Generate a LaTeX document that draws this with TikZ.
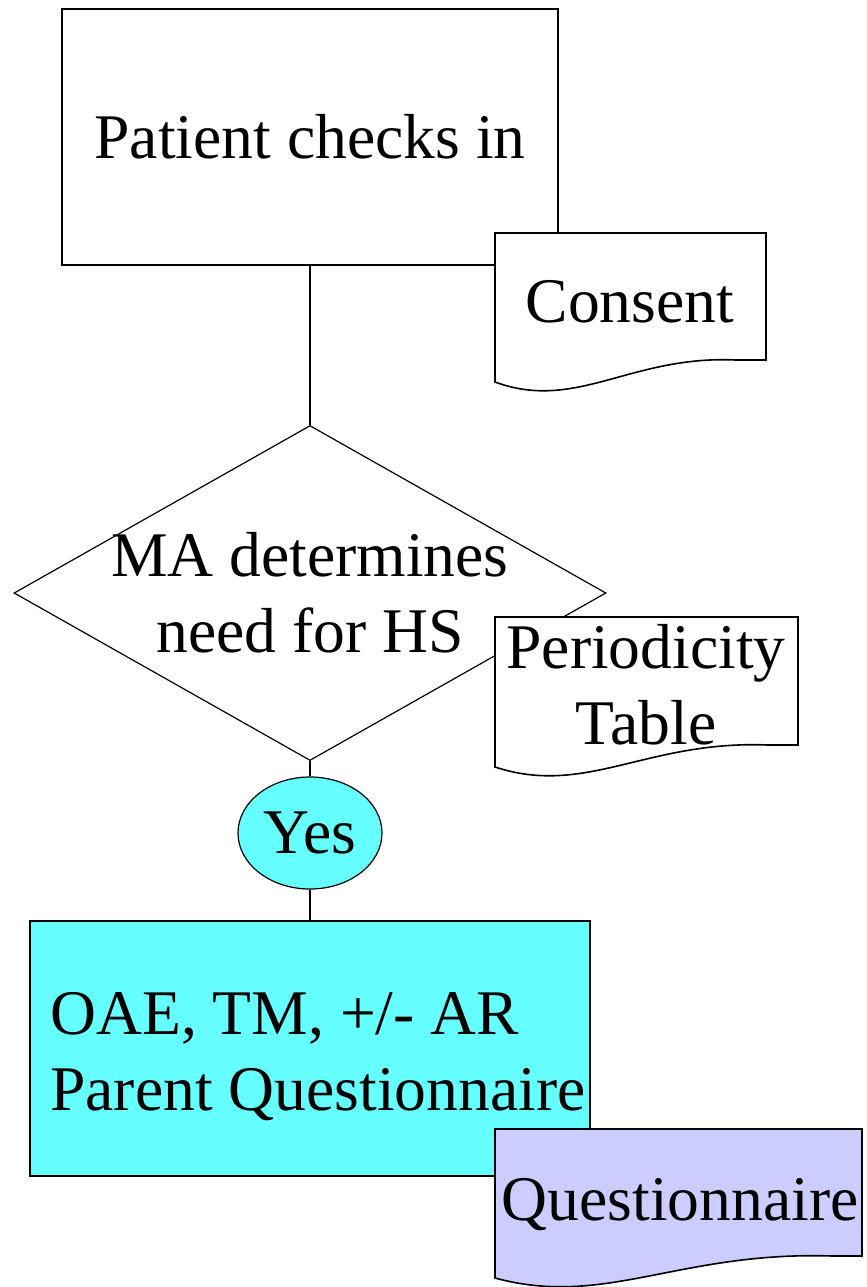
\documentclass[tikz,border=0pt]{standalone}
\usepackage{fontspec}
\setmainfont{Liberation Serif}
\usetikzlibrary{shapes.geometric}
\definecolor{aqua}{HTML}{66FFFF}
\definecolor{lavender}{HTML}{CCCCFF}

\begin{document}
\begin{tikzpicture}[x=0.5pt,y=-0.5pt,
    every node/.style={font=\fontsize{31.8}{38}\selectfont},
    stepbox/.style={draw, line width=1pt, rectangle, inner sep=0pt},
    link/.style={line width=0.6pt}]
  \useasboundingbox (0,0) rectangle (867,1287);

  \node[stepbox, minimum width=248pt, minimum height=128pt] (checkin) at (310,137) {Patient checks in};
  \node[diamond, draw, line width=0.6pt, minimum width=296pt, minimum height=167.5pt, inner sep=0pt,
        label={[align=center]center:MA determines\\need for HS}] (decide) at (310,593) {};
  \node[ellipse, draw, fill=aqua, line width=0.6pt, minimum width=72pt, minimum height=56pt, inner sep=0pt] (yes) at (310,833) {Yes};
  \node[stepbox, fill=aqua, minimum width=280pt, minimum height=127.5pt] (tests) at (310,1048.5) {};
  \node[anchor=west, align=left, inner sep=0pt] (teststext) at (50,1057) {OAE, TM, +/- AR\\Parent Questionnaire};

  \draw[link] (checkin) -- (decide);
  \draw[link] (decide) -- (yes);
  \draw[link] (yes) -- (tests);

  % documents with a wavy bottom
  \foreach \xa/\ya/\xb/\yb/\col in {495/233/766/382/white, 495/617/798/767/white, 495/1129/862/1278/lavender}
  {
    \filldraw[fill=\col, line width=0.8pt] (\xa,\ya) -- (\xb,\ya) -- ({\xb},{\yb-22}) -- ({\xb-30},{\yb-22})
      .. controls ({\xa+0.5*(\xb-\xa)},{\yb-27}) and ({\xa+0.3*(\xb-\xa)},{\yb+30}) .. (\xa,\yb) -- cycle;
  }

  \node (consent) at (630,302) {Consent};
  \node[align=center] (period) at (646,685) {Periodicity\\Table};
  \node (quest) at (680,1205) {Questionnaire};
\end{tikzpicture}
\end{document}
